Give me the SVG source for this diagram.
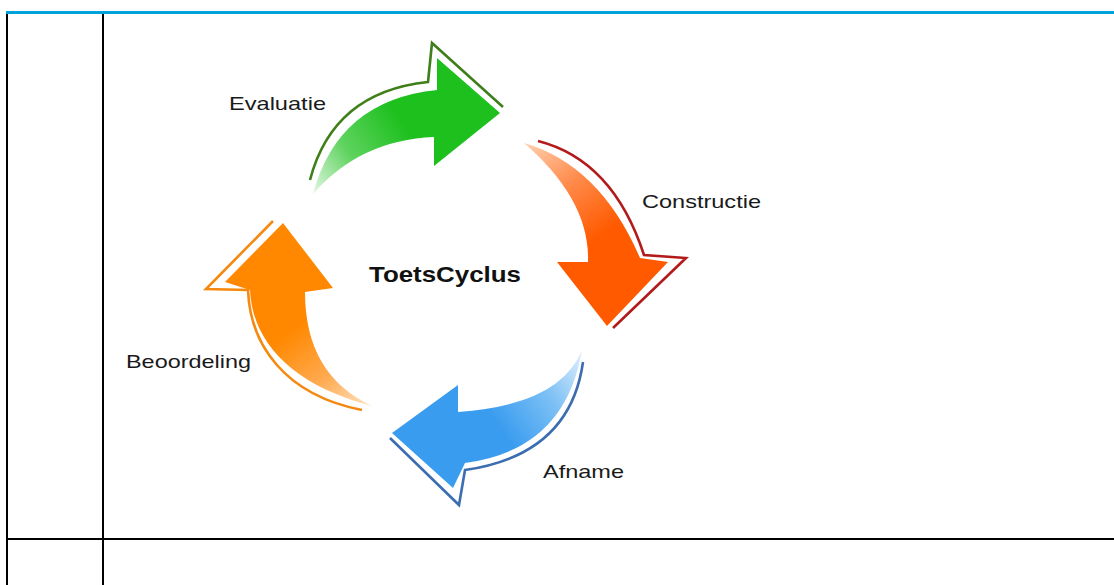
<svg xmlns="http://www.w3.org/2000/svg" width="1114" height="585" viewBox="0 0 1114 585">
<style>
.lbl{font-family:"Liberation Sans",Arial,sans-serif;font-size:19px;fill:#1a1a1a}
.ttl{font-family:"Liberation Sans",Arial,sans-serif;font-size:22px;font-weight:bold;fill:#111}
.ol{fill:none;stroke-width:2.6;stroke-linejoin:miter}
</style>
<defs>
<linearGradient id="gG" gradientUnits="userSpaceOnUse" x1="312" y1="195" x2="440" y2="110">
<stop offset="0" stop-color="#e6f8e6"/><stop offset="0.35" stop-color="#5fd35f"/><stop offset="0.75" stop-color="#1ec01e"/></linearGradient>
<linearGradient id="gR" gradientUnits="userSpaceOnUse" x1="525" y1="143" x2="610" y2="265">
<stop offset="0" stop-color="#ffd0b0"/><stop offset="0.4" stop-color="#ff8a4a"/><stop offset="0.8" stop-color="#ff5a00"/></linearGradient>
<linearGradient id="gB" gradientUnits="userSpaceOnUse" x1="582" y1="352" x2="460" y2="435">
<stop offset="0" stop-color="#e0effc"/><stop offset="0.35" stop-color="#7cc0f5"/><stop offset="0.75" stop-color="#3a9cef"/></linearGradient>
<linearGradient id="gO" gradientUnits="userSpaceOnUse" x1="372" y1="406" x2="285" y2="290">
<stop offset="0" stop-color="#ffe2c0"/><stop offset="0.35" stop-color="#ffaa50"/><stop offset="0.75" stop-color="#ff8800"/></linearGradient>
</defs>
<g id="table">
<rect x="6" y="11" width="1108" height="3" fill="#00a2dc"/>
<rect x="6" y="14" width="2" height="571" fill="#000"/>
<rect x="102" y="14" width="2" height="571" fill="#000"/>
<rect x="6" y="538" width="1108" height="2" fill="#000"/>
</g>
<g id="evaluatie">
<path class="ol" stroke="#3f7f1a" d="M310,180 Q333,92 428,82 L432,43 L503,107"/>
<path fill="url(#gG)" d="M313,194 Q338,100 437,90 L437,58 L500,113 L434,166 L434,137 Q360,140 313,194 Z"/>
<text class="lbl" x="229" y="110" textLength="97" lengthAdjust="spacingAndGlyphs">Evaluatie</text>
</g>
<g id="constructie">
<path class="ol" stroke="#b31b1b" d="M538,141 Q613,160 644,255 L686,258 L613,328"/>
<path fill="url(#gR)" d="M524,143 Q600,165 640,258 L668,262 L607,326 L557,262 L588,262 Q590,200 524,143 Z"/>
<text class="lbl" x="642" y="208" textLength="119" lengthAdjust="spacingAndGlyphs">Constructie</text>
</g>
<g id="afname">
<path class="ol" stroke="#3b6db0" d="M390,438 L459,505 L465,470 Q570,455 583,362"/>
<path fill="url(#gB)" d="M582,350 Q560,405 458,412 L458,385 L392,433 L453,488 L465,463 Q565,450 582,350 Z"/>
<text class="lbl" x="543" y="478" textLength="81" lengthAdjust="spacingAndGlyphs">Afname</text>
</g>
<g id="beoordeling">
<path class="ol" stroke="#f5890f" d="M273,221 L206,289 L248,290 C250,345 285,395 362,410"/>
<path fill="url(#gO)" d="M283,223 L333,288 L305,292 Q305,375 372,406 C290,385 252,340 250,290 L225,282 Z"/>
<text class="lbl" x="126" y="368" textLength="125" lengthAdjust="spacingAndGlyphs">Beoordeling</text>
</g>
<g id="center">
<text class="ttl" x="369" y="282" textLength="152" lengthAdjust="spacingAndGlyphs">ToetsCyclus</text>
</g>
</svg>
